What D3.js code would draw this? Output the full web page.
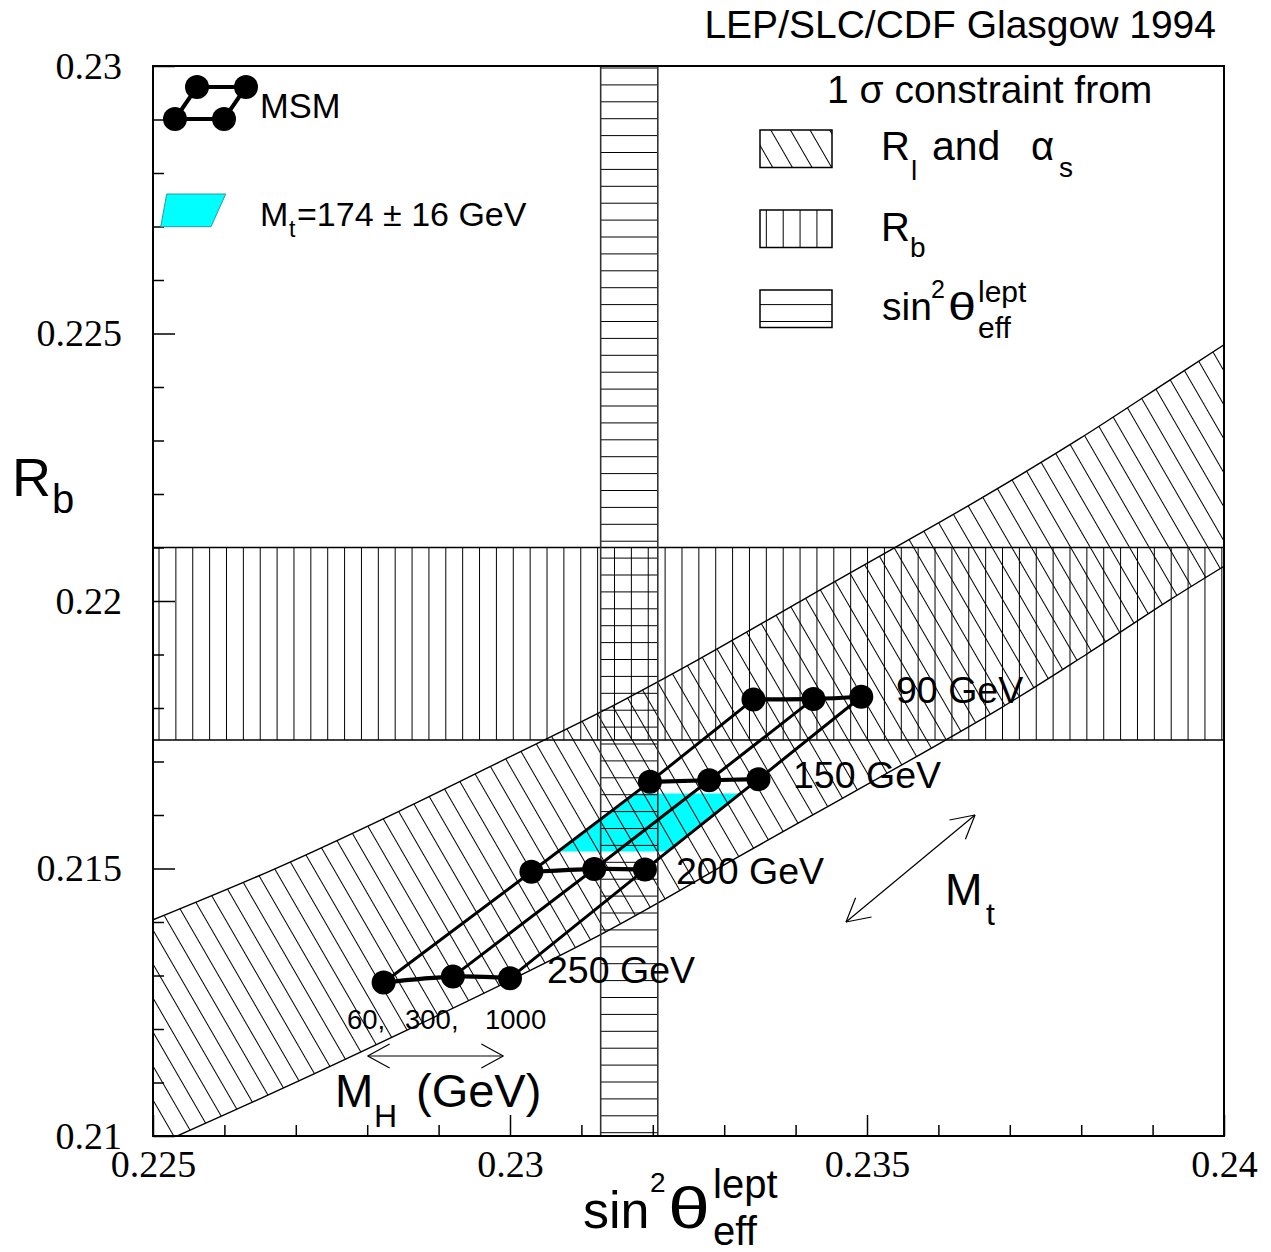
<!DOCTYPE html>
<html><head><meta charset="utf-8">
<script src="https://cdn.jsdelivr.net/npm/d3@7"></script>
<style>
html,body{margin:0;padding:0;background:#fff;}
svg{display:block;}
text{font-family:"Liberation Sans",Arial,Helvetica,sans-serif;fill:#000;}
</style></head><body>
<svg id="chart" width="1271" height="1252"></svg>
<script>
// ---------------- data ----------------
const xDomain = [0.225, 0.24];
const yDomain = [0.21, 0.23];
const xMajorTicks = [0.225, 0.23, 0.235, 0.24];
const xTickLabels = ["0.225", "0.23", "0.235", "0.24"];
const xMinorTicks = [0.226, 0.227, 0.228, 0.229, 0.231, 0.232, 0.233, 0.234, 0.236, 0.237, 0.238, 0.239];
const yMajorTicks = [0.21, 0.215, 0.22, 0.225, 0.23];
const yTickLabels = ["0.21", "0.215", "0.22", "0.225", "0.23"];
const yMinorTicks = [0.211, 0.212, 0.213, 0.214, 0.216, 0.217, 0.218, 0.219, 0.221, 0.222, 0.223, 0.224, 0.226, 0.227, 0.228, 0.229];

// 1 sigma bands
const rbBand = [0.2174, 0.2210];          // R_b measurement
const sinBand = [0.23127, 0.23207];       // sin^2 theta_eff measurement
// R_l and alpha_s band boundaries
const rlUpperX = [0.22500, 0.22670, 0.22843, 0.23014, 0.23128, 0.23263, 0.23406, 0.23542, 0.23656, 0.23796, 0.23924, 0.24000];
const rlUpperY = [0.21404, 0.21499, 0.21606, 0.21718, 0.21793, 0.21890, 0.21999, 0.22102, 0.22189, 0.22302, 0.22413, 0.22479];
const rlLowerX = [0.22500, 0.22748, 0.23112, 0.23332, 0.23686, 0.23808, 0.23924, 0.24000];
const rlLowerY = [0.20980, 0.21130, 0.21366, 0.21531, 0.21799, 0.21901, 0.22002, 0.22065];

// Mt = 174 +- 16 GeV region
const cyanX = [0.23178, 0.23323, 0.23220, 0.23067];
const cyanY = [0.21640, 0.21640, 0.21532, 0.21532];

// MSM prediction grid
const mtValues = [90, 150, 200, 250];
const mhValues = [60, 300, 1000];
const msmSin2 = [
  [0.23341, 0.23425, 0.23492],
  [0.23196, 0.23279, 0.23348],
  [0.23030, 0.23118, 0.23189],
  [0.22823, 0.22920, 0.23000]
];
const msmRb = [
  [0.21816, 0.21817, 0.21821],
  [0.21662, 0.21665, 0.21667],
  [0.21494, 0.21499, 0.21498],
  [0.21287, 0.21298, 0.21295]
];
const mtLabels = ["90 GeV", "150 GeV", "200 GeV", "250 GeV"];
const mhLabels = ["60,", "300,", "1000"];

// arrows (data coords)
const mhArrow = [[0.228007, 0.211495], [0.229906, 0.211495]];
const mtArrow = [[0.234706, 0.214], [0.236513, 0.216]];

// ---------------- drawing ----------------
const svg = d3.select("#chart");
const L = 153, R = 1224, T = 66, B = 1136;
const x = d3.scaleLinear().domain(xDomain).range([L, R]);
const y = d3.scaleLinear().domain(yDomain).range([B, T]);

const defs = svg.append("defs");
defs.append("clipPath").attr("id", "plotclip")
  .append("rect").attr("x", L).attr("y", T).attr("width", R - L).attr("height", B - T);

// hatch patterns
const pv = defs.append("pattern").attr("id", "hv").attr("patternUnits", "userSpaceOnUse")
  .attr("x", 150.57).attr("y", 0).attr("width", 16.87).attr("height", 20);
pv.append("line").attr("x1", 8.435).attr("x2", 8.435).attr("y1", 0).attr("y2", 20)
  .attr("stroke", "#000").attr("stroke-width", 1);
const ph = defs.append("pattern").attr("id", "hh").attr("patternUnits", "userSpaceOnUse")
  .attr("x", 0).attr("y", 59.55).attr("width", 20).attr("height", 16.9);
ph.append("line").attr("x1", 0).attr("x2", 20).attr("y1", 8.45).attr("y2", 8.45)
  .attr("stroke", "#000").attr("stroke-width", 1);
const pd = defs.append("pattern").attr("id", "hd").attr("patternUnits", "userSpaceOnUse")
  .attr("x", -1).attr("y", 0).attr("width", 17).attr("height", 17)
  .attr("patternTransform", "rotate(-30)");
pd.append("line").attr("x1", 8.5).attr("x2", 8.5).attr("y1", -1).attr("y2", 18)
  .attr("stroke", "#000").attr("stroke-width", 1);

const plot = svg.append("g").attr("clip-path", "url(#plotclip)");

// cyan Mt region
plot.append("polygon")
  .attr("points", cyanX.map((v, i) => [x(v), y(cyanY[i])].join(",")).join(" "))
  .attr("fill", "#00ffff").attr("stroke", "none");

// R_b band (vertical hatch)
plot.append("rect").attr("x", L).attr("width", R - L)
  .attr("y", y(rbBand[1])).attr("height", y(rbBand[0]) - y(rbBand[1]))
  .attr("fill", "url(#hv)");
// sin2 band (horizontal hatch)
plot.append("rect").attr("x", x(sinBand[0])).attr("width", x(sinBand[1]) - x(sinBand[0]))
  .attr("y", T).attr("height", B - T)
  .attr("fill", "url(#hh)");

// R_l band
const upperPts = rlUpperX.map((v, i) => [x(v), y(rlUpperY[i])]);
const lowerPts = rlLowerX.map((v, i) => [x(v), y(rlLowerY[i])]);
const curve = d3.line().curve(d3.curveCatmullRom.alpha(0.5));
const revLower = lowerPts.slice().reverse();
const bandPath = curve(upperPts) + "L" + curve(revLower).slice(1) + "Z";
plot.append("path").attr("d", bandPath).attr("fill", "url(#hd)").attr("stroke", "none");
plot.append("path").attr("d", curve(upperPts)).attr("fill", "none").attr("stroke", "#000").attr("stroke-width", 1.4);
plot.append("path").attr("d", curve(lowerPts)).attr("fill", "none").attr("stroke", "#000").attr("stroke-width", 1.4);

// band outlines
[rbBand[0], rbBand[1]].forEach(v => {
  plot.append("line").attr("x1", L).attr("x2", R).attr("y1", y(v)).attr("y2", y(v))
    .attr("stroke", "#000").attr("stroke-width", 1.5);
});
[sinBand[0], sinBand[1]].forEach(v => {
  plot.append("line").attr("x1", x(v)).attr("x2", x(v)).attr("y1", T).attr("y2", B)
    .attr("stroke", "#333").attr("stroke-width", 1.6);
});

// MSM grid: columns (fixed MH, varying Mt)
mhValues.forEach((mh, j) => {
  const pts = mtValues.map((mt, i) => [x(msmSin2[i][j]), y(msmRb[i][j])]);
  plot.append("path").attr("d", d3.line()(pts)).attr("fill", "none")
    .attr("stroke", "#000").attr("stroke-width", 3);
});
// rows (fixed Mt)
mtValues.forEach((mt, i) => {
  const pts = mhValues.map((mh, j) => [x(msmSin2[i][j]), y(msmRb[i][j])]);
  plot.append("path").attr("d", d3.line().curve(d3.curveNatural)(pts)).attr("fill", "none")
    .attr("stroke", "#000").attr("stroke-width", 4.2);
});
mtValues.forEach((mt, i) => {
  mhValues.forEach((mh, j) => {
    plot.append("circle").attr("cx", x(msmSin2[i][j])).attr("cy", y(msmRb[i][j]))
      .attr("r", 12).attr("fill", "#000");
  });
});

// ---------------- axes ----------------
const tickFont = "'Liberation Serif','Times New Roman',Times,serif";
function styleAxis(g) {
  g.select(".domain").remove();
  g.selectAll(".tick line").attr("stroke", "#000").attr("stroke-width", 1.5);
  g.selectAll(".tick text").style("font-family", tickFont).style("font-size", "38px").style("fill", "#000");
}
svg.append("g").attr("transform", `translate(0,${B})`)
  .call(d3.axisBottom(x).tickValues(xMinorTicks).tickSize(-11).tickFormat(""))
  .call(styleAxis);
svg.append("g").attr("transform", `translate(0,${B})`)
  .call(d3.axisBottom(x).tickValues(xMajorTicks).tickSize(-21).tickPadding(14)
    .tickFormat((d, i) => xTickLabels[i]))
  .call(styleAxis);
svg.append("g").attr("transform", `translate(${L},0)`)
  .call(d3.axisLeft(y).tickValues(yMinorTicks).tickSize(-11).tickFormat(""))
  .call(styleAxis);
svg.append("g").attr("transform", `translate(${L},0)`)
  .call(d3.axisLeft(y).tickValues(yMajorTicks).tickSize(-22).tickPadding(31)
    .tickFormat((d, i) => yTickLabels[i]))
  .call(styleAxis);

// frame
svg.append("rect").attr("x", L).attr("y", T).attr("width", R - L).attr("height", B - T)
  .attr("fill", "none").attr("stroke", "#000").attr("stroke-width", 2);

// ---------------- annotations ----------------
function txt(s, px, py, size, opts = {}) {
  const t = svg.append("text").attr("x", px).attr("y", py).style("font-size", size + "px").text(s);
  if (opts.anchor) t.attr("text-anchor", opts.anchor);
  if (opts.len) t.attr("textLength", opts.len).attr("lengthAdjust", "spacingAndGlyphs");
  return t;
}
// title
txt("LEP/SLC/CDF Glasgow 1994", 1216, 38, 39, {anchor: "end"});

// Mt labels
const mtLabelPos = [[896, 703], [793, 788], [676, 884], [547, 983]];
mtLabels.forEach((s, i) => txt(s, mtLabelPos[i][0], mtLabelPos[i][1], 37.5));
// MH values
const mhLabelPos = [[347, 1029], [405, 1029], [485, 1029]];
mhLabels.forEach((s, i) => txt(s, mhLabelPos[i][0], mhLabelPos[i][1], 27.5));

// arrows
function arrow(p0, p1, len, ang) {
  const a = [x(p0[0]), y(p0[1])], b = [x(p1[0]), y(p1[1])];
  const g = svg.append("g").attr("stroke", "#000").attr("stroke-width", 1.2).attr("fill", "none");
  g.append("line").attr("x1", a[0]).attr("y1", a[1]).attr("x2", b[0]).attr("y2", b[1]);
  const head = (tip, from) => {
    const th = Math.atan2(from[1] - tip[1], from[0] - tip[0]);
    [ang, -ang].forEach(da => {
      g.append("line").attr("x1", tip[0]).attr("y1", tip[1])
        .attr("x2", tip[0] + len * Math.cos(th + da)).attr("y2", tip[1] + len * Math.sin(th + da));
    });
  };
  head(a, b); head(b, a);
}
arrow(mhArrow[0], mhArrow[1], 25, 0.5);
arrow(mtArrow[0], mtArrow[1], 26, 0.5);

// M_H (GeV)
txt("M", 335, 1107, 46);
txt("H", 374, 1127, 32);
txt("(GeV)", 416, 1107, 47);
// M_t
txt("M", 945, 905, 45);
txt("t", 986, 925, 32);

// axis titles
txt("R", 12, 496, 54);
txt("b", 52, 513, 40);
txt("sin", 583, 1228, 52);
txt("2", 650, 1192, 28);
txt("θ", 668, 1228, 58, {len: 42});
txt("lept", 713, 1198, 40);
txt("eff", 713, 1245, 40);

// legend top-left: MSM
const lg = svg.append("g");
const msmIcon = [[175, 119], [197, 87], [246, 87], [224, 119]];
lg.append("path").attr("d", d3.line()([msmIcon[0], msmIcon[1], msmIcon[2], msmIcon[3], msmIcon[0]]))
  .attr("fill", "none").attr("stroke", "#000").attr("stroke-width", 4);
msmIcon.forEach(p => lg.append("circle").attr("cx", p[0]).attr("cy", p[1]).attr("r", 12).attr("fill", "#000"));
txt("MSM", 260, 118, 34.5);
// cyan icon
lg.append("polygon").attr("points", "166.7,194 225.7,194 211,226.7 160.7,226.7")
  .attr("fill", "#00ffff").attr("stroke", "#2a9a9a").attr("stroke-width", 1);
txt("M", 260, 226, 34);
txt("t", 289, 237, 23);
txt("=174 ± 16 GeV", 297, 226, 34);

// legend top-right
txt("1 σ constraint from", 827, 103, 39);
const boxes = [["hd", 130], ["hv", 210], ["hh", 290]];
boxes.forEach(b => {
  svg.append("rect").attr("x", 760).attr("y", b[1]).attr("width", 72).attr("height", 37.5)
    .attr("fill", `url(#${b[0]})`).attr("stroke", "#000").attr("stroke-width", 1.5);
});
txt("R", 881, 160, 40);
txt("l", 911, 180, 28);
txt("and", 932, 160, 41);
txt("α", 1031, 160, 40);
txt("s", 1059, 177, 28);
txt("R", 881, 241, 40);
txt("b", 910, 257, 28);
txt("sin", 882, 320, 39);
txt("2", 931, 298, 25);
txt("θ", 948, 320, 39, {len: 28});
txt("lept", 978, 302, 30);
txt("eff", 978, 338, 30);
</script>
</body></html>
